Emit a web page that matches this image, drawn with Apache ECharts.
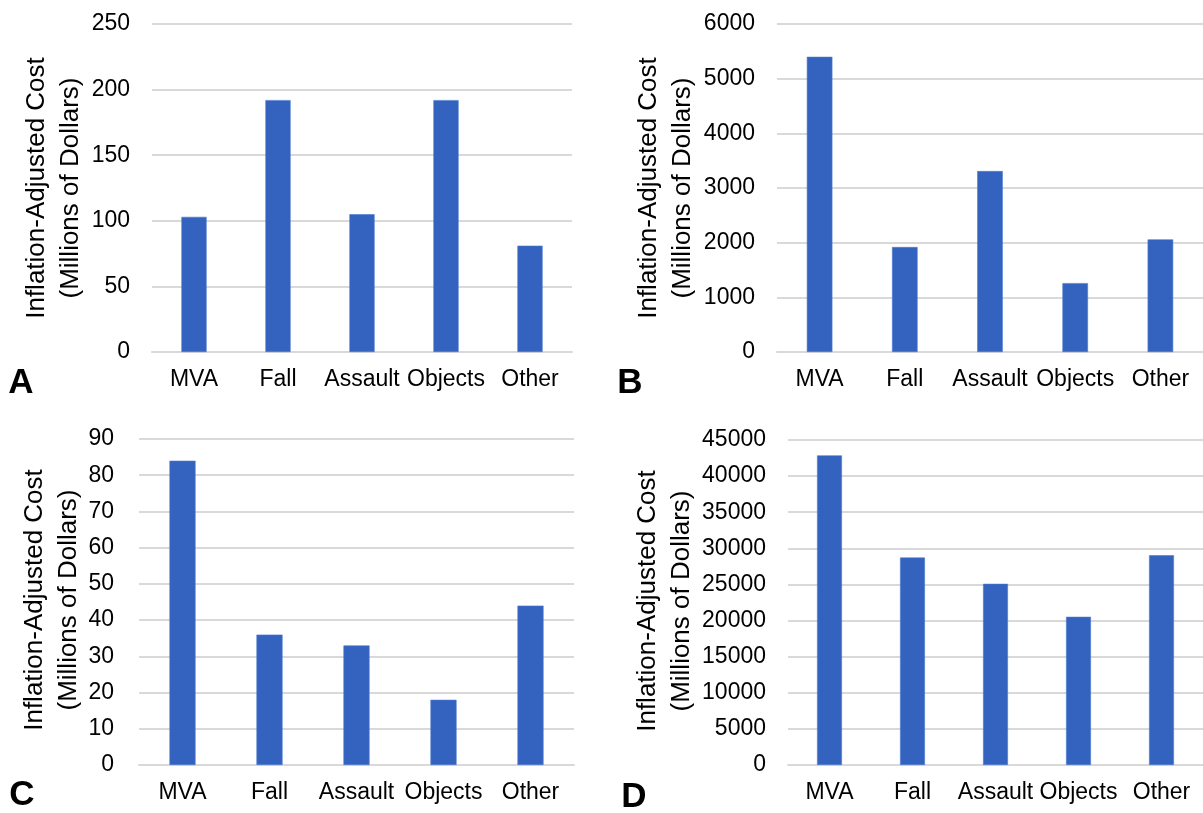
<!DOCTYPE html>
<html>
<head>
<meta charset="utf-8">
<style>
  html, body { margin: 0; padding: 0; background: #fff; }
  #chart { width: 1203px; height: 813px; }
</style>
<script src="https://cdn.jsdelivr.net/npm/echarts@6/dist/echarts.min.js"></script>
</head>
<body>
<div id="chart"></div>
<script>
// Injury mechanism categories shared by all four panels
const categories = ['MVA', 'Fall', 'Assault', 'Objects', 'Other'];

// Inflation-adjusted cost, millions of dollars
const costA = [103, 192, 105, 192, 81];
const costB = [5400, 1920, 3310, 1260, 2060];
const costC = [84, 36, 33, 18, 44];
const costD = [42870, 28730, 25090, 20520, 29050];

// Value-axis ranges per panel
const axisMaxA = 250, stepA = 50;
const axisMaxB = 6000, stepB = 1000;
const axisMaxC = 90, stepC = 10;
const axisMaxD = 45000, stepD = 5000;

const panelLetters = ['A', 'B', 'C', 'D'];
const titleLines = ['Inflation-Adjusted Cost', '(Millions of Dollars)'];

const FONT = "'Liberation Sans', Arial, Helvetica, sans-serif";
const BAR = '#3462bf';
const GRIDLINE = '#d9d9d9';
const INK = '#000';

const grids = [
  { left: 152, top: 24, width: 420, height: 328 },
  { left: 777, top: 24, width: 437, height: 328 },
  { left: 139, top: 439, width: 435, height: 326 },
  { left: 788, top: 440, width: 430, height: 325 }
];

const values = [costA, costB, costC, costD];
const maxes = [axisMaxA, axisMaxB, axisMaxC, axisMaxD];
const steps = [stepA, stepB, stepC, stepD];
const labelGaps = [22, 22, 25, 22];

const xAxes = grids.map((g, i) => ({
  type: 'category',
  gridIndex: i,
  data: categories,
  axisLine: { show: true, lineStyle: { color: GRIDLINE, width: 2 } },
  axisTick: { show: false },
  axisLabel: {
    interval: 0,
    margin: 16,
    color: INK,
    fontFamily: FONT,
    fontSize: 23
  }
}));

const yAxes = grids.map((g, i) => ({
  type: 'value',
  gridIndex: i,
  min: 0,
  max: maxes[i],
  interval: steps[i],
  axisLine: { show: false },
  axisTick: { show: false },
  splitLine: { lineStyle: { color: GRIDLINE, width: 2 } },
  axisLabel: {
    margin: labelGaps[i],
    color: INK,
    fontFamily: FONT,
    fontSize: 23,
    formatter: v => String(v)
  }
}));

const series = values.map((v, i) => ({
  type: 'bar',
  xAxisIndex: i,
  yAxisIndex: i,
  data: v,
  barWidth: '30%',
  itemStyle: { color: BAR, borderColor: '#4a78d0', borderWidth: 0.6 },
  silent: true
}));

// Rotated two-line axis titles and bold panel letters
const titlePos = [[54, 188], [666, 188], [52, 600], [665, 601]];
const letterPos = [[21, 383], [630, 383], [22, 795], [634, 797]];

const graphics = [];
titlePos.forEach(p => {
  graphics.push({
    type: 'text',
    x: p[0],
    y: p[1],
    rotation: Math.PI / 2,
    style: {
      text: titleLines.join('\n'),
      fontFamily: FONT,
      fontSize: 26,
      lineHeight: 34,
      fill: INK,
      textAlign: 'center',
      textVerticalAlign: 'middle'
    }
  });
});
letterPos.forEach((p, i) => {
  graphics.push({
    type: 'text',
    x: p[0],
    y: p[1],
    style: {
      text: panelLetters[i],
      fontFamily: FONT,
      fontWeight: 'bold',
      fontSize: 35,
      fill: INK,
      textAlign: 'center',
      textVerticalAlign: 'middle'
    }
  });
});

const chart = echarts.init(document.getElementById('chart'), null, { renderer: 'canvas' });
chart.setOption({
  animation: false,
  backgroundColor: '#fff',
  grid: grids,
  xAxis: xAxes,
  yAxis: yAxes,
  series: series,
  graphic: graphics
});
</script>
</body>
</html>
